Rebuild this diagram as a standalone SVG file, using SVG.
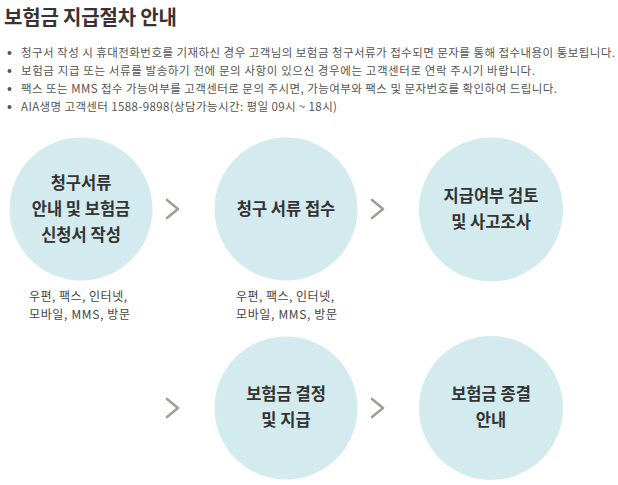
<svg xmlns="http://www.w3.org/2000/svg" width="618" height="485" viewBox="0 0 618 485">
<style>
text{font-family:"Noto Sans CJK KR","Noto Sans",sans-serif}
.title{font-size:20px;font-weight:700;fill:#3a3232}
.bul{font-size:11.5px;fill:#555}
.dot{fill:#555}
.c{fill:#d3ebef}
.lbl{font-size:16.5px;font-weight:700;fill:#333;text-anchor:middle}
.sub{font-size:12px;fill:#444}
.chev{fill:none;stroke:#a39d98;stroke-width:2.6;stroke-linecap:round;stroke-linejoin:round}
</style>
<rect width="618" height="485" fill="#fff"/>
<text class="title" x="4" y="25" textLength="173">보험금 지급절차 안내</text>
<g id="notes">
<circle class="dot" cx="9.5" cy="53" r="2"/>
<circle class="dot" cx="9.5" cy="71" r="2"/>
<circle class="dot" cx="9.5" cy="89" r="2"/>
<circle class="dot" cx="9.5" cy="107" r="2"/>
<text class="bul" x="21" y="57" textLength="594">청구서 작성 시 휴대전화번호를 기재하신 경우 고객님의 보험금 청구서류가 접수되면 문자를 통해 접수내용이 통보됩니다.</text>
<text class="bul" x="21" y="75" textLength="514">보험금 지급 또는 서류를 발송하기 전에 문의 사항이 있으신 경우에는 고객센터로 연락 주시기 바랍니다.</text>
<text class="bul" x="21" y="93" textLength="536">팩스 또는 MMS 접수 가능여부를 고객센터로 문의 주시면, 가능여부와 팩스 및 문자번호를 확인하여 드립니다.</text>
<text class="bul" x="21" y="111" textLength="316">AIA생명 고객센터 1588-9898(상담가능시간: 평일 09시 ~ 18시)</text>
</g>
<g id="connectors">
<polyline class="chev" points="167,200 178,209 167,218"/>
<polyline class="chev" points="372,200 383,209 372,218"/>
<polyline class="chev" points="167,399 178,408 167,417"/>
<polyline class="chev" points="372,399 383,408 372,417"/>
</g>
<g id="step1">
<circle class="c" cx="81" cy="209" r="71.5"/>
<text class="lbl" x="81" y="189">청구서류</text>
<text class="lbl" x="81" y="215">안내 및 보험금</text>
<text class="lbl" x="81" y="241">신청서 작성</text>
<text class="sub" x="29" y="301" textLength="98">우편, 팩스, 인터넷,</text>
<text class="sub" x="29" y="319" textLength="101">모바일, MMS, 방문</text>
</g>
<g id="step2">
<circle class="c" cx="286" cy="209" r="71.5"/>
<text class="lbl" x="286" y="215">청구 서류 접수</text>
<text class="sub" x="236" y="301" textLength="98">우편, 팩스, 인터넷,</text>
<text class="sub" x="236" y="319" textLength="101">모바일, MMS, 방문</text>
</g>
<g id="step3">
<circle class="c" cx="491" cy="209.5" r="72"/>
<text class="lbl" x="491" y="202">지급여부 검토</text>
<text class="lbl" x="491" y="228">및 사고조사</text>
</g>
<g id="step4">
<circle class="c" cx="286" cy="408" r="71.5"/>
<text class="lbl" x="286" y="400">보험금 결정</text>
<text class="lbl" x="286" y="426">및 지급</text>
</g>
<g id="step5">
<circle class="c" cx="491" cy="408" r="72"/>
<text class="lbl" x="491" y="400">보험금 종결</text>
<text class="lbl" x="491" y="426">안내</text>
</g>
</svg>
